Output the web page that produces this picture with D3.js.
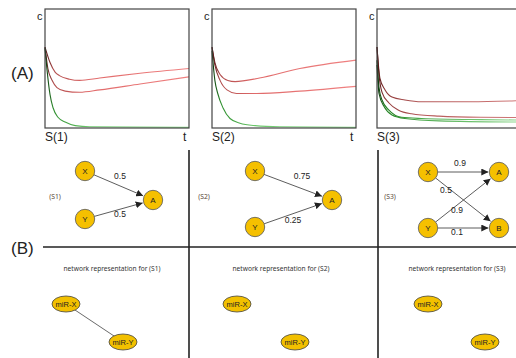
<!DOCTYPE html>
<html>
<head>
<meta charset="utf-8">
<script src="https://cdn.jsdelivr.net/npm/d3@7"></script>
<style>
  body { margin: 0; background: #fff; }
  svg { display: block; font-family: "Liberation Sans", Arial, sans-serif; }
</style>
</head>
<body>
<div class="chart"></div>
<script>
// ---- (A) time courses, t and c on a 0..100 scale ----
const panelNames = ["S(1)", "S(2)", "S(3)"];

const s1Upper = [[0,68],[3.5,55],[7,47],[10,44],[17,41],[24,40],[38,42],[66,46],[100,50]];
const s1Lower = [[0,68],[2,50],[5,40],[8.3,34],[14,31],[24,30],[38,32],[66,37],[100,43]];
const s1Green = [[0,67],[1.4,49],[3.5,28],[5.6,17],[9,9],[14,5],[21,2],[31,1],[100,0.5]];

const s2Upper = [[0,68],[2,55],[5.6,45],[11,40],[16,39],[33,42],[61,50],[100,57]];
const s2Lower = [[0,68],[2,53],[5.6,40],[10.4,32],[17,29],[31,29],[61,31],[100,35]];
const s2Green = [[0,65],[2,40],[4,29],[7.6,17],[12.5,8],[19.4,4],[30,2],[47,1],[100,0.5]];

const s3Upper = [[0,68],[2,42],[5.6,32],[10.4,26],[19.4,23.5],[31,22],[65,22],[100,23]];
const s3Lower = [[0,68],[1.4,44.5],[3.5,30],[8.3,21],[15,15],[24,12],[43,10],[72,9],[100,8.8]];
const s3Green1 = [[0,57],[1.4,34],[3.5,23.5],[8.3,15],[17,9],[31,8],[72,7],[100,6.7]];
const s3Green2 = [[0,53],[1.4,29],[4.9,18],[10.4,11],[19.4,8],[43,6],[100,5]];

const panelSeries = [
  [{ d: s1Upper, k: "red" }, { d: s1Lower, k: "red" }, { d: s1Green, k: "green" }],
  [{ d: s2Upper, k: "red" }, { d: s2Lower, k: "red" }, { d: s2Green, k: "green" }],
  [{ d: s3Upper, k: "red3" }, { d: s3Lower, k: "red3" }, { d: s3Green1, k: "green3" }, { d: s3Green2, k: "green3" }]
];

// ---- (B) networks ----
const netLabels = ["(S1)", "(S2)", "(S3)"];
const net1Nodes = [{ id: "X", x: 85, y: 171 }, { id: "Y", x: 85, y: 219 }, { id: "A", x: 153, y: 200 }];
const net1Edges = [["X", "A", "0.5", 120, 179], ["Y", "A", "0.5", 120, 217]];
const net2Nodes = [{ id: "X", x: 255, y: 171 }, { id: "Y", x: 255, y: 227 }, { id: "A", x: 332, y: 200 }];
const net2Edges = [["X", "A", "0.75", 302, 179], ["Y", "A", "0.25", 293, 223]];
const net3Nodes = [{ id: "X", x: 428, y: 172 }, { id: "Y", x: 428, y: 228 }, { id: "A", x: 499, y: 172 }, { id: "B", x: 499, y: 228 }];
const net3Edges = [["X", "A", "0.9", 460, 166], ["X", "B", "0.5", 446, 193], ["Y", "A", "0.9", 457, 213], ["Y", "B", "0.1", 457, 235]];
const nets = [[net1Nodes, net1Edges], [net2Nodes, net2Edges], [net3Nodes, net3Edges]];

const repTitles = ["network representation for (S1)", "network representation for (S2)", "network representation for (S3)"];
const mirLinked = [true, false, false];

const width = 516, height = 358;
const svg = d3.select(".chart").append("svg").attr("width", width).attr("height", height);
const defs = svg.append("defs");

defs.append("marker").attr("id", "arr").attr("viewBox", "0 0 10 10")
  .attr("refX", 10).attr("refY", 5).attr("markerWidth", 7).attr("markerHeight", 7)
  .attr("orient", "auto").attr("markerUnits", "userSpaceOnUse")
  .append("path").attr("d", "M0,0L10,5L0,10z").attr("fill", "#222");

// colour fades from dark at t=0 to light at the end
const gradOffsets = ["0%", "6%", "30%", "100%"];
const gradStops = {
  red: ["#4a1515", "#b04c4c", "#e06a6a", "#f08282"],
  green: ["#0a300a", "#2f8f2f", "#6cc86c", "#90e090"],
  red3: ["#4a1010", "#903a3a", "#b45858", "#d07878"],
  green3: ["#0a300a", "#248224", "#4aa84a", "#90d890"]
};

const panelLeft = [45, 212, 377];
const panelW = 144, plotTop = 9, plotBottom = 128;
const y = d3.scaleLinear().domain([0, 100]).range([plotBottom, plotTop]);

panelLeft.forEach((left, i) => {
  const x = d3.scaleLinear().domain([0, 100]).range([left, left + panelW]);
  const g = svg.append("g");

  Object.keys(gradStops).forEach(k => {
    const gr = defs.append("linearGradient").attr("id", `g${i}${k}`)
      .attr("gradientUnits", "userSpaceOnUse")
      .attr("x1", left).attr("x2", left + panelW).attr("y1", 0).attr("y2", 0);
    gradOffsets.forEach((o, j) => gr.append("stop").attr("offset", o).attr("stop-color", gradStops[k][j]));
  });

  const line = d3.line().x(d => x(d[0])).y(d => y(d[1])).curve(d3.curveMonotoneX);
  g.selectAll("path.c").data(panelSeries[i]).enter().append("path")
    .attr("class", "c").attr("d", d => line(d.d)).attr("fill", "none")
    .attr("stroke", d => `url(#g${i}${d.k})`).attr("stroke-width", 1.1);

  g.append("rect").attr("x", left).attr("y", plotTop).attr("width", panelW).attr("height", plotBottom - plotTop)
    .attr("fill", "none").attr("stroke", "#444").attr("stroke-width", 1.2);

  g.append("text").attr("x", left - 8).attr("y", 20).attr("font-size", 11).attr("fill", "#222").text("c");
  g.append("text").attr("x", left).attr("y", 141).attr("font-size", 12).attr("fill", "#222").text(panelNames[i]);
  if (i < 2) g.append("text").attr("x", left + panelW - 6).attr("y", 141).attr("font-size", 12).attr("fill", "#222").text("t");
});

svg.append("text").attr("x", 11).attr("y", 79).attr("font-size", 17).attr("fill", "#222").text("(A)");
svg.append("text").attr("x", 11).attr("y", 254).attr("font-size", 17).attr("fill", "#222").text("(B)");

// grid lines of (B)
svg.append("line").attr("x1", 43).attr("x2", 516).attr("y1", 247).attr("y2", 247).attr("stroke", "#222").attr("stroke-width", 1.6);
[189, 378].forEach(vx => svg.append("line").attr("x1", vx).attr("x2", vx).attr("y1", 150).attr("y2", 358)
  .attr("stroke", "#222").attr("stroke-width", 1.6));

const labelX = [55, 204, 390];
nets.forEach(([nodes, edges], i) => {
  const g = svg.append("g");
  const byId = Object.fromEntries(nodes.map(n => [n.id, n]));
  const r = 9.7;
  edges.forEach(([a, b, w, lx, ly]) => {
    const s = byId[a], t = byId[b];
    const dx = t.x - s.x, dy = t.y - s.y, L = Math.hypot(dx, dy);
    g.append("line").attr("x1", s.x + dx / L * r).attr("y1", s.y + dy / L * r)
      .attr("x2", t.x - dx / L * (r + 1)).attr("y2", t.y - dy / L * (r + 1))
      .attr("stroke", "#333").attr("stroke-width", 0.8).attr("marker-end", "url(#arr)");
    g.append("text").attr("x", lx).attr("y", ly).attr("text-anchor", "middle").attr("font-size", 8.5)
      .attr("fill", "#222").text(w);
  });
  g.selectAll("circle").data(nodes).enter().append("circle")
    .attr("cx", d => d.x).attr("cy", d => d.y).attr("r", r)
    .attr("fill", "#f5c000").attr("stroke", "#555").attr("stroke-width", 0.8);
  g.selectAll("text.n").data(nodes).enter().append("text").attr("class", "n")
    .attr("x", d => d.x).attr("y", d => d.y + 3).attr("text-anchor", "middle")
    .attr("font-size", 8).attr("fill", "#222").text(d => d.id);
  g.append("text").attr("x", labelX[i]).attr("y", 199).attr("text-anchor", "middle")
    .attr("font-family", "'Noto Sans', sans-serif").attr("font-size", 6.8).attr("fill", "#5a4a3a").text(netLabels[i]);
});

const repX = [112, 281, 457];
const mirX = [[66, 123], [237, 295], [428, 485]];
repTitles.forEach((t, i) => {
  const g = svg.append("g");
  g.append("text").attr("x", repX[i]).attr("y", 271).attr("text-anchor", "middle")
    .attr("font-family", "'Noto Sans', sans-serif").attr("font-size", 6.6).attr("fill", "#333").text(t);
  const pts = [{ id: "miR-X", x: mirX[i][0], y: 304 }, { id: "miR-Y", x: mirX[i][1], y: 342 }];
  if (mirLinked[i]) g.append("line").attr("x1", pts[0].x).attr("y1", pts[0].y).attr("x2", pts[1].x).attr("y2", pts[1].y)
    .attr("stroke", "#444").attr("stroke-width", 0.8);
  g.selectAll("ellipse").data(pts).enter().append("ellipse")
    .attr("cx", d => d.x).attr("cy", d => d.y).attr("rx", 14).attr("ry", 8)
    .attr("fill", "#f2c000").attr("stroke", "#444").attr("stroke-width", 0.8);
  g.selectAll("text.m").data(pts).enter().append("text").attr("class", "m")
    .attr("x", d => d.x).attr("y", d => d.y + 2.8).attr("text-anchor", "middle")
    .attr("font-size", 7.5).attr("fill", "#222").text(d => d.id);
});
</script>
</body>
</html>
